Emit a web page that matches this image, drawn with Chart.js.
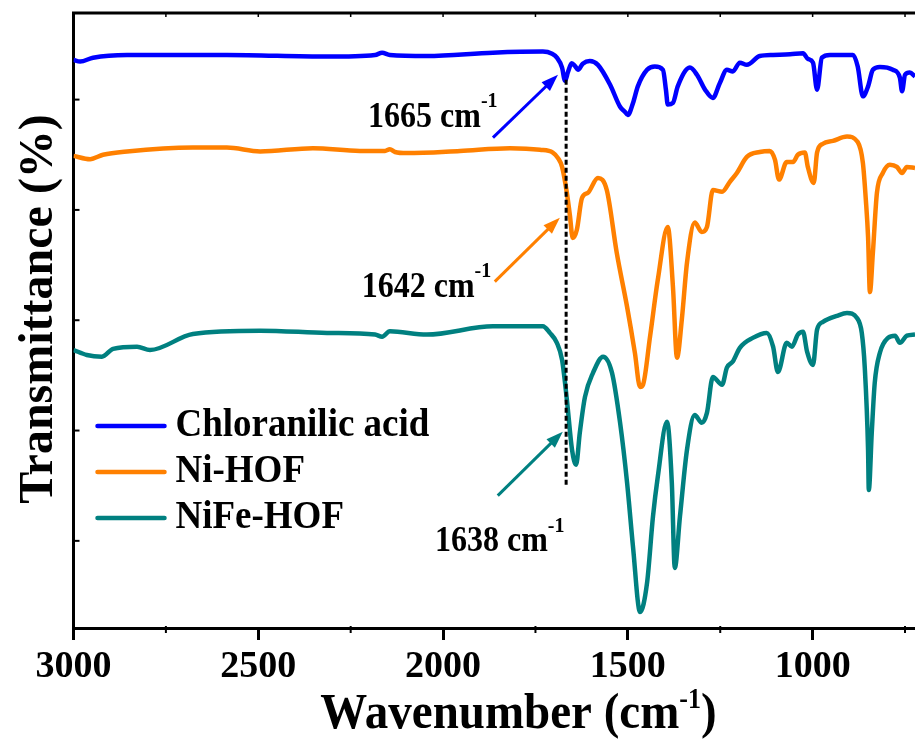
<!DOCTYPE html>
<html>
<head>
<meta charset="utf-8">
<script src="https://cdn.jsdelivr.net/npm/chart.js@4.4.1/dist/chart.umd.min.js"></script>
<style>
html, body { margin: 0; padding: 0; background: #fff; }
canvas { display: block; }
</style>
</head>
<body>
<canvas id="ftirChart" width="915" height="740"></canvas>
<script>
// FTIR spectra, wavenumber (cm-1) vs transmittance (offset, a.u.)
const acidWn = [3000, 2982, 2947, 2855, 2585, 2314, 2184, 2165, 2144, 2044, 1865, 1730, 1705, 1692, 1678, 1670, 1662, 1652, 1643, 1635, 1622, 1603, 1581, 1548, 1521, 1508, 1500, 1486, 1473, 1448, 1427, 1405, 1397, 1392, 1378, 1365, 1332, 1313, 1291, 1270, 1251, 1232, 1216, 1197, 1178, 1143, 1107, 1061, 1026, 1013, 999, 988, 975, 953, 891, 878, 864, 850, 837, 818, 783, 764, 758, 750, 737, 723];
const acidT = [87.2, 86.9, 87.6, 88.1, 88.1, 87.8, 88.1, 88.5, 88.1, 87.9, 88.5, 88.7, 88.3, 87.6, 85.8, 83.4, 85.0, 86.6, 86.1, 85.4, 86.5, 87.0, 86.3, 82.7, 78.7, 77.8, 77.2, 79.4, 82.4, 85.4, 86.0, 85.4, 81.8, 79.1, 79.4, 82.4, 85.8, 84.5, 81.8, 80.3, 83.0, 85.4, 85.1, 86.7, 86.3, 87.9, 88.1, 88.2, 88.4, 87.4, 86.7, 81.8, 87.6, 88.1, 88.1, 86.0, 80.6, 82.4, 85.4, 85.9, 85.4, 84.0, 81.5, 84.5, 84.9, 84.2];

const niWn = [3000, 2955, 2920, 2855, 2677, 2585, 2495, 2352, 2225, 2157, 2144, 2130, 2098, 1954, 1819, 1738, 1703, 1689, 1678, 1665, 1657, 1649, 1638, 1624, 1608, 1581, 1557, 1530, 1502, 1481, 1467, 1459, 1440, 1419, 1392, 1378, 1367, 1354, 1340, 1319, 1300, 1286, 1270, 1245, 1224, 1205, 1178, 1143, 1116, 1102, 1091, 1070, 1053, 1040, 1021, 1013, 997, 988, 972, 945, 907, 878, 864, 856, 850, 845, 837, 826, 810, 791, 772, 758, 745, 723];
const niT = [69.8, 69.2, 70.0, 70.6, 71.3, 71.3, 70.6, 71.2, 70.7, 70.7, 71.0, 70.5, 70.3, 70.7, 71.2, 70.9, 70.4, 69.4, 67.8, 63.1, 59.1, 54.9, 56.4, 62.2, 63.1, 65.8, 63.6, 52.2, 42.4, 34.1, 27.9, 28.3, 37.0, 47.3, 56.9, 46.1, 33.2, 40.1, 50.4, 57.7, 56.0, 56.9, 63.6, 63.3, 65.1, 66.7, 69.6, 70.5, 70.7, 69.1, 65.5, 68.7, 68.7, 70.0, 70.4, 67.8, 64.9, 70.4, 72.0, 72.5, 73.3, 72.3, 68.5, 61.8, 55.1, 45.1, 52.2, 63.1, 66.7, 68.2, 67.8, 66.7, 67.8, 67.6];

const nifeWn = [3000, 2964, 2923, 2893, 2828, 2793, 2677, 2495, 2314, 2184, 2165, 2144, 2044, 1865, 1730, 1711, 1692, 1678, 1665, 1651, 1640, 1630, 1616, 1594, 1567, 1543, 1521, 1502, 1486, 1467, 1448, 1432, 1419, 1394, 1381, 1373, 1359, 1340, 1319, 1300, 1286, 1270, 1245, 1232, 1216, 1197, 1162, 1124, 1107, 1094, 1070, 1056, 1040, 1026, 1015, 999, 988, 972, 934, 907, 880, 867, 859, 850, 848, 840, 832, 818, 796, 777, 764, 745, 723];
const nifeT = [34.6, 33.7, 33.4, 34.8, 35.2, 34.6, 37.5, 38.1, 37.7, 37.4, 37.0, 38.0, 37.4, 38.9, 38.9, 37.7, 35.9, 32.8, 25.6, 16.5, 13.8, 19.6, 26.1, 30.5, 33.4, 30.5, 21.4, 10.5, -1.1, -12.9, -7.6, 4.4, 11.6, 21.6, 10.5, -4.9, 4.4, 16.5, 22.8, 21.4, 23.2, 29.7, 28.3, 31.4, 32.5, 35.0, 36.8, 37.7, 35.2, 30.6, 35.9, 35.2, 37.4, 37.9, 34.3, 31.9, 38.3, 39.7, 40.8, 41.3, 40.4, 37.7, 31.5, 16.5, 9.2, 19.6, 28.6, 34.1, 36.8, 37.2, 35.9, 37.2, 37.4];

const seriesNames = ['Chloranilic acid', 'Ni-HOF', 'NiFe-HOF'];
const seriesColors = ['#0000FF', '#FF8000', '#008080'];
const xTicks = [3000, 2500, 2000, 1500, 1000];
const yTicks = [0, 20, 40, 60, 80];

// dashed guide at the C=O band
const guideWn = 1667;
const guideT = [83.6, 9.8];

// peak annotations: label, arrow tail, arrow head, text anchor (wn, T)
const peakLabels = ['1665', '1642', '1638'];
const arrowTail = [[1865, 73.1], [1860, 47.0], [1852, 8.2]];
const arrowHead = [[1689, 84.5], [1684, 58.6], [1676, 19.8]];
const labelAt = [[2203, 75.1], [2220, 44.3], [2022, -1.9]];

const serif = '"Liberation Serif", "Times New Roman", serif';
const stretch = 1.1; // the figure text is a bit taller than wide

function toPoints(xs, ys) {
    return xs.map((x, i) => ({ x: x, y: ys[i] }));
}

function supWidth(ctx, main, sup, tail, size, supSize) {
    ctx.font = `bold ${size}px ${serif}`;
    let w = ctx.measureText(main).width + ctx.measureText(tail).width;
    ctx.font = `bold ${supSize}px ${serif}`;
    return w + ctx.measureText(sup).width;
}

// text with a raised "-1", drawn slightly tall
function drawSup(ctx, x, y, main, sup, tail, size, supSize, raise) {
    ctx.save();
    ctx.translate(x, y);
    ctx.scale(1, stretch);
    ctx.textAlign = 'left';
    ctx.textBaseline = 'alphabetic';
    ctx.font = `bold ${size}px ${serif}`;
    ctx.fillText(main, 0, 0);
    let w = ctx.measureText(main).width;
    ctx.font = `bold ${supSize}px ${serif}`;
    ctx.fillText(sup, w, -raise);
    w += ctx.measureText(sup).width;
    if (tail) {
        ctx.font = `bold ${size}px ${serif}`;
        ctx.fillText(tail, w, 0);
    }
    ctx.restore();
}

function drawArrow(ctx, x1, y1, x2, y2, color) {
    const ang = Math.atan2(y2 - y1, x2 - x1);
    const head = 17, half = 6;
    ctx.strokeStyle = color;
    ctx.fillStyle = color;
    ctx.lineWidth = 3;
    ctx.beginPath();
    ctx.moveTo(x1, y1);
    ctx.lineTo(x2 - Math.cos(ang) * head * 0.8, y2 - Math.sin(ang) * head * 0.8);
    ctx.stroke();
    ctx.beginPath();
    ctx.moveTo(x2, y2);
    ctx.lineTo(x2 - head * Math.cos(ang) + half * Math.sin(ang), y2 - head * Math.sin(ang) - half * Math.cos(ang));
    ctx.lineTo(x2 - head * Math.cos(ang) - half * Math.sin(ang), y2 - head * Math.sin(ang) + half * Math.cos(ang));
    ctx.closePath();
    ctx.fill();
}

// frame, minor ticks, titles, legend and peak labels
const decorPlugin = {
    id: 'decor',
    afterDraw(chart) {
        const ctx = chart.ctx;
        const xs = chart.scales.x;
        const ys = chart.scales.y;
        const area = chart.chartArea;
        ctx.save();

        // top frame with small inward ticks
        ctx.strokeStyle = '#000';
        ctx.lineWidth = 3;
        ctx.beginPath();
        ctx.moveTo(area.left - 1.5, area.top);
        ctx.lineTo(area.right, area.top);
        ctx.stroke();

        ctx.lineWidth = 1.5;
        for (let w = 2750; w > xs.min; w -= 250) {
            const px = xs.getPixelForValue(w);
            ctx.beginPath();
            ctx.moveTo(px, area.top);
            ctx.lineTo(px, area.top + 4);
            ctx.stroke();
            if (w % 500 !== 0) {
                ctx.lineWidth = 2;
                ctx.beginPath();
                ctx.moveTo(px, area.bottom - 2);
                ctx.lineTo(px, area.bottom + 5);
                ctx.stroke();
                ctx.lineWidth = 1.5;
            }
        }

        // left axis inward ticks
        ctx.lineWidth = 2;
        yTicks.forEach(v => {
            const py = ys.getPixelForValue(v);
            ctx.beginPath();
            ctx.moveTo(area.left, py);
            ctx.lineTo(area.left + 6, py);
            ctx.stroke();
        });

        // peak arrows and labels
        peakLabels.forEach((lab, i) => {
            drawArrow(ctx,
                xs.getPixelForValue(arrowTail[i][0]), ys.getPixelForValue(arrowTail[i][1]),
                xs.getPixelForValue(arrowHead[i][0]), ys.getPixelForValue(arrowHead[i][1]),
                seriesColors[i]);
            ctx.fillStyle = '#000';
            drawSup(ctx, xs.getPixelForValue(labelAt[i][0]), ys.getPixelForValue(labelAt[i][1]),
                lab + ' cm', '-1', '', 32, 20, 18);
        });

        // legend
        chart.data.datasets.forEach((ds, i) => {
            if (!ds.label) return;
            const ly = area.top + 413 + i * 46;
            ctx.strokeStyle = ds.borderColor;
            ctx.lineWidth = 4.5;
            ctx.lineCap = 'round';
            ctx.beginPath();
            ctx.moveTo(area.left + 24, ly);
            ctx.lineTo(area.left + 91, ly);
            ctx.stroke();
            ctx.save();
            ctx.translate(area.left + 102, ly + 10);
            ctx.scale(1, stretch);
            ctx.fillStyle = '#000';
            ctx.font = `bold 37px ${serif}`;
            ctx.textAlign = 'left';
            ctx.textBaseline = 'alphabetic';
            ctx.fillText(ds.label, 0, 0);
            ctx.restore();
        });

        // x axis title
        ctx.fillStyle = '#000';
        const tw = supWidth(ctx, 'Wavenumber (cm', '-1', ')', 47, 26);
        drawSup(ctx, area.left + 445 - tw / 2, 728, 'Wavenumber (cm', '-1', ')', 47, 26, 18);

        // y axis title
        ctx.save();
        ctx.translate(52, 309);
        ctx.rotate(-Math.PI / 2);
        ctx.font = `bold 48px ${serif}`;
        ctx.textAlign = 'center';
        ctx.textBaseline = 'alphabetic';
        ctx.fillText('Transmittance (%)', 0, 0);
        ctx.restore();

        ctx.restore();
    }
};

const lineStyle = { borderWidth: 4.5, pointRadius: 0, fill: false, cubicInterpolationMode: 'monotone' };

const ctx = document.getElementById('ftirChart').getContext('2d');
const chart = new Chart(ctx, {
    type: 'line',
    data: {
        datasets: [
            Object.assign({ label: seriesNames[0], data: toPoints(acidWn, acidT), borderColor: seriesColors[0], order: 3 }, lineStyle),
            Object.assign({ label: seriesNames[1], data: toPoints(niWn, niT), borderColor: seriesColors[1], order: 2 }, lineStyle),
            Object.assign({ label: seriesNames[2], data: toPoints(nifeWn, nifeT), borderColor: seriesColors[2], order: 1 }, lineStyle),
            {
                label: '',
                data: [{ x: guideWn, y: guideT[0] }, { x: guideWn, y: guideT[1] }],
                borderColor: '#000', borderWidth: 3, borderDash: [5, 3],
                pointRadius: 0, fill: false, order: 0
            }
        ]
    },
    options: {
        responsive: false,
        animation: false,
        layout: { padding: { top: 13, left: 0, right: 0, bottom: 0 } },
        plugins: {
            legend: { display: false },
            tooltip: { enabled: false }
        },
        scales: {
            x: {
                type: 'linear',
                reverse: true,
                min: 723,
                max: 3000,
                afterBuildTicks: s => { s.ticks = xTicks.map(v => ({ value: v })); },
                afterFit: s => { s.height = 112; },
                border: { display: true, color: '#000', width: 3 },
                grid: { display: true, drawOnChartArea: false, drawTicks: true, tickLength: 12, tickWidth: 3, tickColor: '#000' },
                ticks: {
                    color: '#000',
                    padding: 4,
                    maxRotation: 0,
                    autoSkip: false,
                    font: { family: serif, size: 38, weight: 'bold' },
                    callback: v => String(v)
                }
            },
            y: {
                min: -15.8,
                max: 95.7,
                afterFit: s => { s.width = 73.5; },
                border: { display: true, color: '#000', width: 3 },
                grid: { display: false },
                ticks: { display: false }
            }
        }
    },
    plugins: [decorPlugin]
});
</script>
</body>
</html>
